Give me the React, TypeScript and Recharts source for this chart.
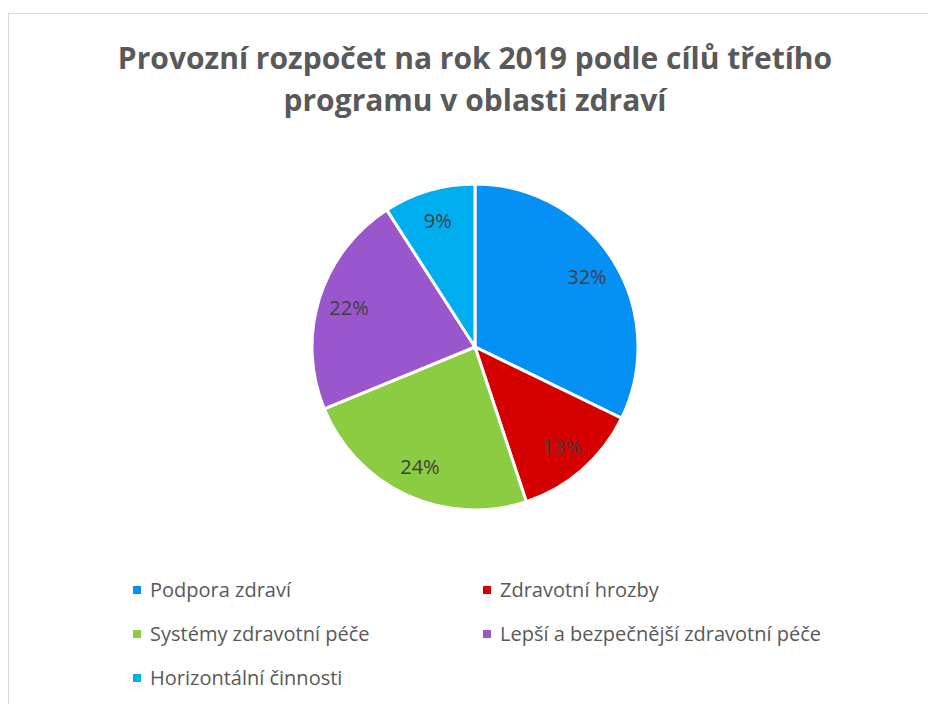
import React from 'react';
import { PieChart, Pie, Cell, Legend } from 'recharts';

const categories = [
  'Podpora zdraví',
  'Zdravotní hrozby',
  'Systémy zdravotní péče',
  'Lepší a bezpečnější zdravotní péče',
  'Horizontální činnosti',
];
const shares = [32.2, 12.7, 23.9, 22.1, 9.1];
const colors = ['#0590F5', '#D50000', '#8BCC42', '#9A57CD', '#00AEEF'];

const data = categories.map((name, i) => ({ name, value: shares[i] }));

const RADIAN = Math.PI / 180;
const FONT = '"Open Sans", sans-serif';

const renderLabel = (props: any) => {
  const { cx, cy, midAngle, outerRadius, percent } = props;
  const r = outerRadius * 0.81;
  const x = cx + r * Math.cos(-midAngle * RADIAN);
  const y = cy + r * Math.sin(-midAngle * RADIAN);
  return (
    <text x={x} y={y} fill="#404040" textAnchor="middle" dominantBaseline="central" fontSize={20} fontFamily={FONT}>
      {`${Math.round(percent * 100)}%`}
    </text>
  );
};

const renderLegend = () => (
  <div style={{ display: 'grid', gridTemplateColumns: '350px 420px', rowGap: 19, fontFamily: FONT, fontSize: 20, color: '#595959' }}>
    {data.map((d, i) => (
      <div key={d.name} style={{ display: 'flex', alignItems: 'center', height: 25, whiteSpace: 'nowrap' }}>
        <span style={{ width: 8, height: 8, background: colors[i], marginRight: 9, display: 'inline-block', flexShrink: 0 }} />
        <span>{d.name}</span>
      </div>
    ))}
  </div>
);

export default function App() {
  return (
    <div style={{ position: 'absolute', left: 0, top: 0, width: 928, height: 704, overflow: 'hidden', background: '#fff' }}>
      <div style={{ position: 'absolute', left: 8, top: 13, width: 960, height: 720, border: '1.5px solid #d9d9d9', boxSizing: 'border-box' }} />
      <div
        style={{
          position: 'absolute',
          left: 0,
          top: 37,
          width: 950,
          textAlign: 'center',
          fontFamily: FONT,
          fontWeight: 700,
          fontSize: 30,
          lineHeight: '42px',
          color: '#595959',
        }}
      >
        Provozní rozpočet na rok 2019 podle cílů třetího
        <br />
        programu v oblasti zdraví
      </div>
      <div style={{ position: 'absolute', left: 0, top: 0 }}>
        <PieChart width={928} height={704} margin={{ top: 0, right: 0, bottom: 0, left: 0 }}>
          <Pie
            data={data}
            dataKey="value"
            nameKey="name"
            cx={475}
            cy={347}
            outerRadius={163}
            startAngle={90}
            endAngle={-270}
            stroke="#ffffff"
            strokeWidth={3}
            label={renderLabel}
            labelLine={false}
            isAnimationActive={false}
          >
            {data.map((d, i) => (
              <Cell key={d.name} fill={colors[i]} />
            ))}
          </Pie>
          <Legend content={renderLegend} wrapperStyle={{ left: 133, top: 577, width: 780 }} />
        </PieChart>
      </div>
    </div>
  );
}
